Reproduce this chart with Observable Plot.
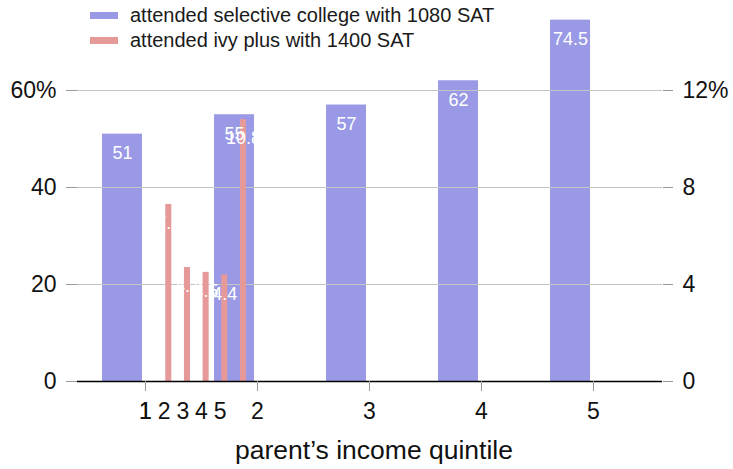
<!DOCTYPE html>
<html><head><meta charset="utf-8">
<script src="https://cdn.jsdelivr.net/npm/d3@7"></script>
<script src="https://cdn.jsdelivr.net/npm/@observablehq/plot@0.6"></script>
<style>
body{margin:0;background:#fff;font-family:"Liberation Sans",Arial,sans-serif;}
#wrap{position:relative;width:733px;height:469px;}
#legend{position:absolute;left:90px;top:3px;font-size:20px;color:#1a1a1a;line-height:25px;}
#legend .item{display:flex;align-items:center;white-space:nowrap;}
#legend .sw{display:inline-block;width:28px;height:7px;margin-right:12px;}
</style></head><body>
<div id="wrap"><div id="chart"></div><div id="legend"></div></div>
<script>
const quintiles = [1, 2, 3, 4, 5];
const selectiveShare = [51, 55, 57, 62, 74.5];
const ivyShare = [7.3, 4.7, 4.5, 4.4, 10.8];
const leftTicks = [0, 20, 40, 60];
const rightTicks = [0, 4, 8, 12];
const seriesNames = ["attended selective college with 1080 SAT", "attended ivy plus with 1400 SAT"];
const colors = ["#9999e6", "#e69999"];
const xLabel = "parent\u2019s income quintile";

// secondary (right) axis is the left one divided by this ratio
const ratio = 5;
const blueOffset = -0.205, blueW = 0.357;
const ivyPos = q => 1 + (q - 1) / 6;   // secondary x axis positions
const ivyOffset = 0.208, ivyW = 0.054;

const blue = quintiles.map((q, i) => ({q, v: selectiveShare[i]}));
const red = quintiles.map((q, i) => ({q, v: ivyShare[i]}));

const font = "'Liberation Sans', Arial, sans-serif";

const chart = Plot.plot({
  width: 733,
  height: 469,
  marginLeft: 77,
  marginRight: 71,
  marginTop: 2,
  marginBottom: 88,
  style: {fontFamily: font, background: "#fff", color: "#111"},
  x: {type: "linear", domain: [0.393, 5.616], axis: null},
  y: {domain: [0, 78.14], axis: null},
  marks: [
    Plot.rectY(blue, {
      x1: d => d.q + blueOffset - blueW / 2,
      x2: d => d.q + blueOffset + blueW / 2,
      y1: 0, y2: "v", fill: colors[0]
    }),
    Plot.ruleY(leftTicks.slice(1), {stroke: "#c4c4c4", strokeWidth: 1.2}),
    Plot.rectY(red, {
      x1: d => ivyPos(d.q) + ivyOffset - ivyW / 2,
      x2: d => ivyPos(d.q) + ivyOffset + ivyW / 2,
      y1: 0, y2: d => d.v * ratio, fill: colors[1]
    }),
    Plot.ruleY([0], {stroke: "#000", strokeWidth: 1.3}),
    Plot.text(blue, {
      x: d => d.q + blueOffset, y: "v", text: d => String(d.v),
      fill: "white", dy: 19, fontSize: 18
    }),
    Plot.text(red, {
      x: d => ivyPos(d.q) + ivyOffset, y: d => d.v * ratio, text: d => String(d.v),
      fill: "white", dy: 19, fontSize: 18
    }),
    Plot.axisY(leftTicks, {
      anchor: "left", label: null, tickSize: 11, tickPadding: 10, fontSize: 23,
      stroke: "#999", fill: "#111",
      tickFormat: d => d === 60 ? "60%" : String(d)
    }),
    Plot.axisY(rightTicks.map(t => t * ratio), {
      anchor: "right", label: null, tickSize: 10, tickPadding: 10, fontSize: 23,
      stroke: "#999", fill: "#111",
      tickFormat: d => d / ratio === 12 ? "12%" : String(d / ratio)
    }),
    Plot.axisX(quintiles, {
      anchor: "bottom", label: null, tickSize: 10, tickPadding: 11, fontSize: 23,
      stroke: "#999", fill: "#111", tickFormat: d => String(d)
    }),
    Plot.axisX(quintiles.map(ivyPos), {
      anchor: "bottom", label: null, tickSize: 0, tickPadding: 21, fontSize: 23,
      fill: "#111", tickFormat: d => String(Math.round((d - 1) * 6 + 1))
    }),
    Plot.text([xLabel], {
      frameAnchor: "bottom", dx: 4, dy: 77, fontSize: 26.5, fill: "#111"
    })
  ]
});
document.getElementById("chart").appendChild(chart);

const legend = document.getElementById("legend");
seriesNames.forEach((name, i) => {
  const item = document.createElement("div");
  item.className = "item";
  const sw = document.createElement("span");
  sw.className = "sw";
  sw.style.background = colors[i];
  item.appendChild(sw);
  item.appendChild(document.createTextNode(name));
  legend.appendChild(item);
});
</script>
</body></html>
